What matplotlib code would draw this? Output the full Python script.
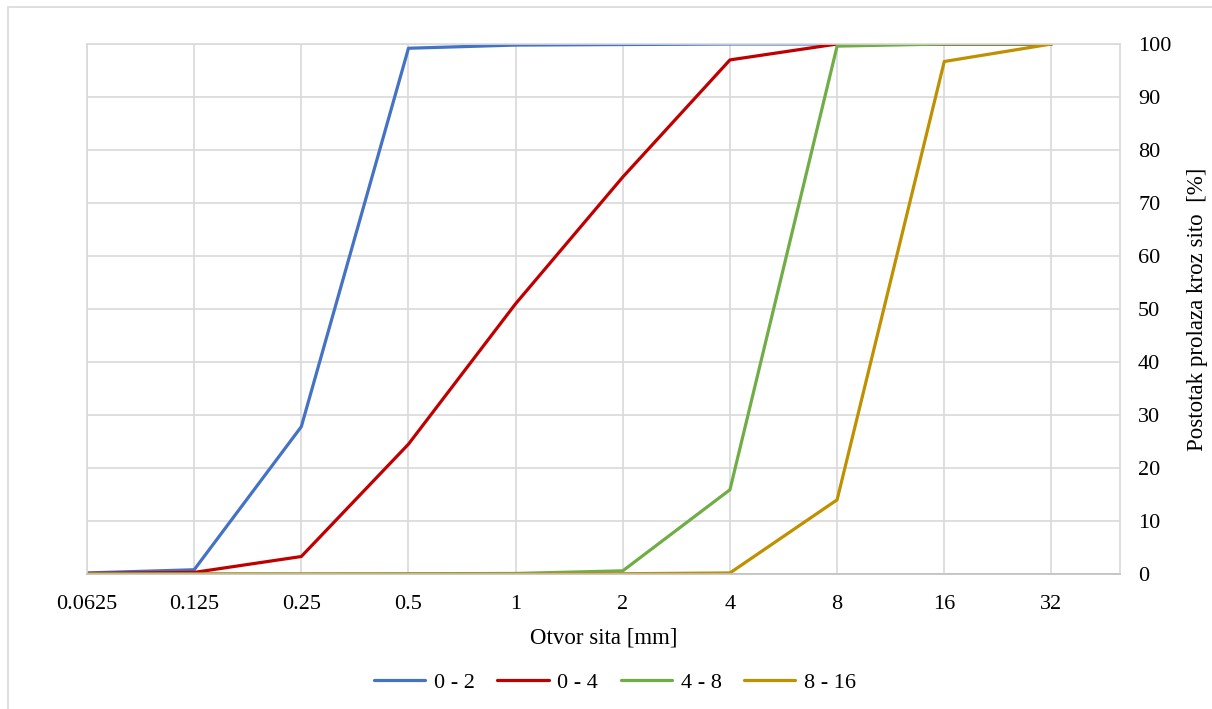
import numpy as np
import matplotlib.pyplot as plt
from matplotlib.patches import Rectangle

plt.rcParams["font.family"] = ["Liberation Serif", "DejaVu Serif"]

sieves = ["0.0625", "0.125", "0.25", "0.5", "1", "2", "4", "8", "16", "32"]
frac_0_2 = [0.2, 0.8, 27.8, 99.2, 99.8, 99.9, 100, 100, 100, 100]
frac_0_4 = [0.1, 0.3, 3.3, 24.5, 51.0, 74.9, 97.0, 100, 100, 100]
frac_4_8 = [0, 0, 0, 0.05, 0.1, 0.6, 15.9, 99.6, 100, 100]
frac_8_16 = [0, 0, 0, 0, 0, 0.05, 0.2, 14.0, 96.7, 100]

series = [
    ("0 - 2", frac_0_2, "#4472C4"),
    ("0 - 4", frac_0_4, "#C00000"),
    ("4 - 8", frac_4_8, "#70AD47"),
    ("8 - 16", frac_8_16, "#BF9000"),
]

fig = plt.figure(figsize=(12.12, 7.09), dpi=100)
W, H = 1212, 709
ax = fig.add_axes([87 / W, 1 - 574 / H, (1120 - 87) / W, (574 - 44) / H])

# outer chart border
fig.patches.append(Rectangle((8 / W, -0.1), 1.5, 1 - 7 / H + 0.1, transform=fig.transFigure,
                             fill=False, edgecolor="#D9D9D9", linewidth=1.2))

xi = np.arange(len(sieves))
for label, vals, c in series:
    ax.plot(xi, vals, color=c, lw=2.3, label=label, solid_capstyle="round")

ax.set_xlim(0, 9.64)
ax.set_ylim(0, 100)
ax.set_xticks(xi)
ax.set_xticklabels(sieves)
ax.set_yticks(np.arange(0, 101, 10))
ax.yaxis.tick_right()
ax.yaxis.set_label_position("right")
ax.grid(True, color="#D9D9D9", lw=1.2)
ax.set_axisbelow(True)
for s in ax.spines.values():
    s.set_color("#D9D9D9")
    s.set_linewidth(1.2)
ax.spines["bottom"].set_color("#BFBFBF")
ax.tick_params(length=0, labelsize=16, pad=15)
ax.tick_params(axis="y", pad=13)
ax.set_xlabel("Otvor sita [mm]", fontsize=16.5, labelpad=10)
ax.set_ylabel("Postotak prolaza kroz sito  [%]", fontsize=16.5, labelpad=11)

fig.legend(loc="center", bbox_to_anchor=(615 / W, 1 - 683 / H), ncol=4, frameon=False,
           fontsize=16, handlelength=2.3, columnspacing=1.0, handletextpad=0.4)

fig.savefig("out.png", dpi=100)
